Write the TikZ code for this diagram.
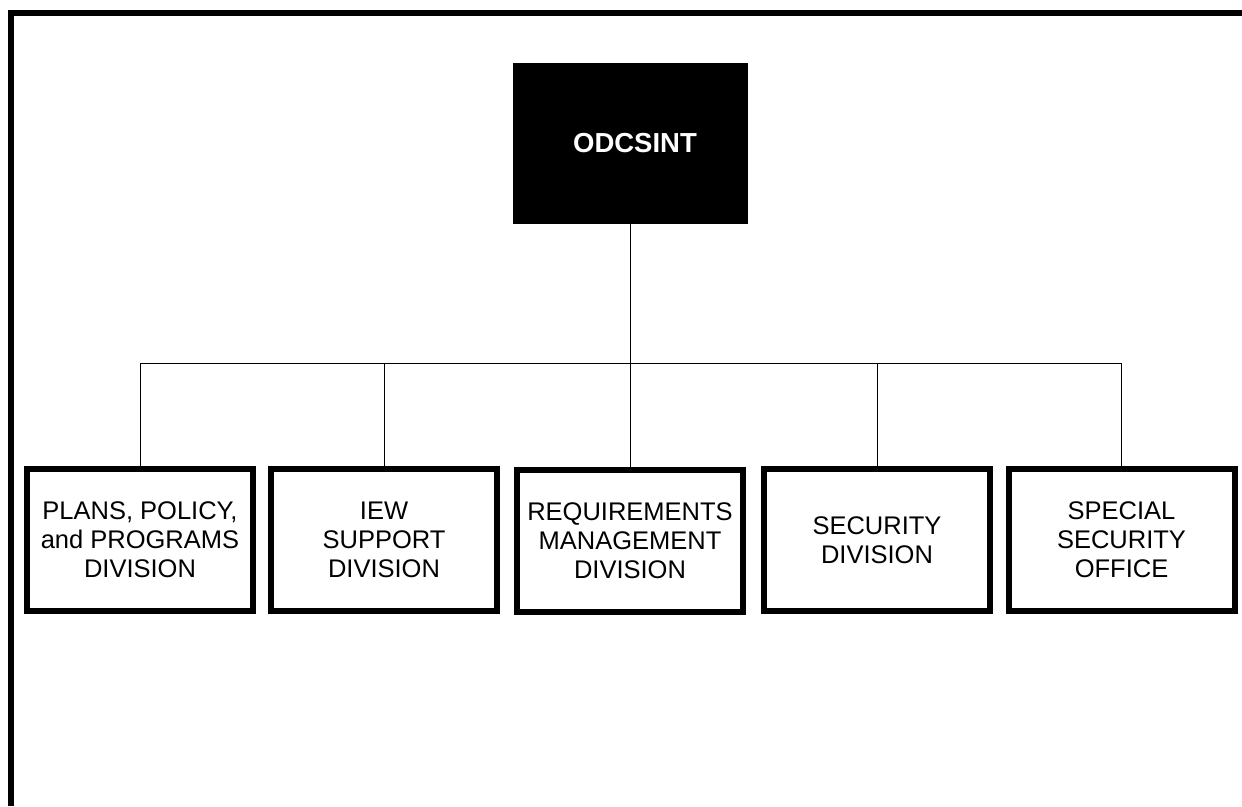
\documentclass[tikz,border=0pt]{standalone}
\usepackage{fontspec}
\setmainfont{Liberation Sans}
\begin{document}
\begin{tikzpicture}[x=1pt,y=-1pt,
  divbox/.style={draw=black,line width=6pt,fill=white,minimum width=226pt,minimum height=142pt,
    align=center,inner sep=0pt,font=\fontsize{25.5pt}{29pt}\selectfont},
  topbox/.style={draw=black,fill=black,minimum width=234pt,minimum height=160pt,inner sep=0pt,
    text=white,font=\fontsize{27.5pt}{30pt}\selectfont\bfseries},
  link/.style={draw=black,line width=1pt}]
\useasboundingbox (0,0) rectangle (1242,806);
\fill[white] (0,0) rectangle (1242,806);
% frame
\draw[line width=6pt] (11,806) -- (11,13) -- (1242,13);
% top
\node[topbox] (top) at (630,143) {\hspace{10pt}ODCSINT};
% divisions
\node[divbox] (d1) at (140,540) {PLANS, POLICY,\\and PROGRAMS\\DIVISION};
\node[divbox] (d2) at (384,540) {IEW\\SUPPORT\\DIVISION};
\node[divbox] (d3) at (630,541) {REQUIREMENTS\\MANAGEMENT\\DIVISION};
\node[divbox] (d4) at (877,540) {SECURITY\\DIVISION};
\node[divbox] (d5) at (1121.5,540) {SPECIAL\\SECURITY\\OFFICE};
\coordinate (hub) at (630,363);
\draw[link] (top.south) -- (hub);
\draw[link] (d1.north |- hub) -- (d5.north |- hub);
\foreach \n in {d1,d2,d3,d4,d5}{
  \draw[link] (\n.north |- hub) -- (\n.north);
}
\end{tikzpicture}
\end{document}
